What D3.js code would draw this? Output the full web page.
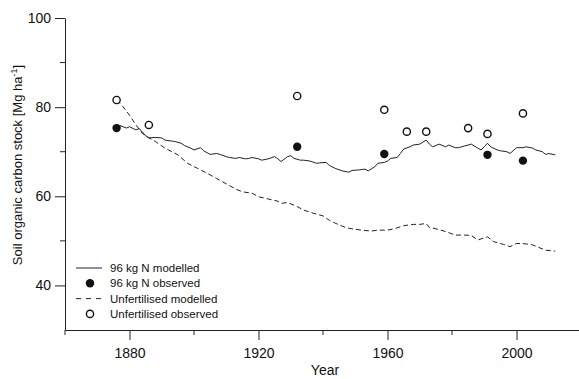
<!DOCTYPE html>
<html>
<head>
<meta charset="utf-8">
<script src="https://d3js.org/d3.v7.min.js"></script>
<style>
  body { margin: 0; background: #fff; }
  text { font-family: "Liberation Sans", Arial, sans-serif; fill: #111; }
</style>
</head>
<body>
<svg id="chart" width="579" height="379"></svg>
<script>
  // modelled series (year, Mg C/ha)
  var nYears = [1877,1879,1880,1882,1883,1885,1886,1888,1890,1891,1893,1894,1896,1897,1899,1900,1902,1903,1905,1907,1908,1910,1911,1913,1914,1916,1917,1918,1920,1921,1923,1925,1926,1927,1929,1930,1931,1933,1934,1936,1938,1939,1941,1942,1944,1946,1948,1949,1951,1953,1954,1956,1957,1959,1960,1961,1963,1964,1965,1967,1968,1970,1972,1973,1974,1976,1978,1979,1981,1982,1984,1986,1988,1989,1990,1991,1992,1994,1995,1997,1998,2000,2002,2003,2005,2006,2008,2009,2010,2012];
  var nModelled = [75.9,75.3,75.6,74.9,75.2,73.6,73.1,73.2,73.1,72.6,72.4,72.3,71.9,71.4,70.8,70.4,70.9,70.2,69.4,69.6,69.4,68.9,68.7,68.5,68.7,68.4,68.5,68.7,68.4,68.1,68.4,68.9,68.4,67.8,68.9,69.1,68.5,68.1,68.1,67.9,67.4,67.5,67.6,66.9,66.2,65.7,65.4,65.8,65.9,66.1,65.7,66.6,67.4,67.6,67.9,68.5,68.7,69.6,70.6,71.1,71.5,71.7,72.6,71.7,71.1,71.7,71.1,71.5,70.9,70.9,71.3,71.7,70.8,70.4,71.1,71.9,71.1,70.4,70.2,70.0,69.6,70.9,70.9,71.1,70.8,70.4,70.0,69.4,69.6,69.3];

  var uYears = [1876,1878,1880,1882,1884,1886,1888,1891,1895,1898,1901,1904,1907,1910,1913,1915,1918,1920,1923,1926,1927,1929,1932,1934,1937,1940,1942,1944,1947,1949,1952,1955,1957,1960,1962,1965,1968,1970,1972,1973,1975,1978,1981,1984,1986,1988,1991,1993,1996,1998,2000,2002,2005,2007,2009,2012];
  var uModelled = [81.6,80.1,78.2,76.0,74.1,73.1,72.3,70.8,69.3,67.4,66.3,65.2,64.0,62.8,61.6,61.0,60.7,59.9,59.4,58.9,58.4,58.6,57.7,56.9,56.2,55.6,54.6,53.9,53.0,52.7,52.4,52.2,52.4,52.4,52.7,53.4,53.7,53.7,53.9,53.0,52.7,52.1,51.3,51.3,51.2,50.2,50.9,49.8,49.2,48.7,49.4,49.4,49.1,48.5,47.9,47.7];

  // observed points
  var nObsYears = [1876,1932,1959,1991,2002];
  var nObserved = [75.3,71.1,69.5,69.3,68.0];
  var uObsYears = [1876,1886,1932,1959,1966,1972,1985,1991,2002];
  var uObserved = [81.6,76.0,82.5,79.4,74.5,74.5,75.3,74.0,78.6];

  var yTicks = [40,60,80,100];
  var yMinor = [50,70,90];
  var xTicks = [1880,1920,1960,2000];
  var xMinor = [1860,1900,1940,1980,2020];

  var legendNames = ["96 kg N modelled","96 kg N observed","Unfertilised modelled","Unfertilised observed"];

  var svg = d3.select("#chart");

  var x = d3.scaleLinear().domain([1860, 2020]).range([65, 581]);
  var y = d3.scaleLinear().domain([30, 100]).range([330, 18]);

  // y axis
  var yAxis = svg.append("g").attr("transform", "translate(65,0)");
  yAxis.call(d3.axisLeft(y).tickValues(yTicks).tickSize(10).tickPadding(4).tickSizeOuter(0));
  yAxis.selectAll("text").style("font-size", "14px").attr("fill", "#111");
  yAxis.selectAll("line").attr("stroke", "#222");
  yAxis.select(".domain").attr("stroke", "#222");
  yAxis.selectAll(".minor").data(yMinor).enter().append("line")
    .attr("class", "minor")
    .attr("x1", -5).attr("x2", 0)
    .attr("y1", function(d) { return y(d); })
    .attr("y2", function(d) { return y(d); })
    .attr("stroke", "#222");

  // x axis
  var xAxis = svg.append("g").attr("transform", "translate(0,330)");
  xAxis.call(d3.axisBottom(x).tickValues(xTicks).tickFormat(d3.format("d")).tickSize(10).tickPadding(8).tickSizeOuter(0));
  xAxis.selectAll("text").style("font-size", "14px").attr("fill", "#111");
  xAxis.selectAll("line").attr("stroke", "#222");
  xAxis.select(".domain").attr("stroke", "#222");
  xAxis.selectAll(".minor").data(xMinor).enter().append("line")
    .attr("class", "minor")
    .attr("x1", function(d) { return x(d); })
    .attr("x2", function(d) { return x(d); })
    .attr("y1", 0).attr("y2", 5)
    .attr("stroke", "#222");

  // axis titles
  svg.append("text")
    .attr("transform", "translate(22,165) rotate(-90)")
    .attr("text-anchor", "middle")
    .style("font-size", "13px")
    .html('Soil organic carbon stock [Mg ha<tspan baseline-shift="super" font-size="9px">-1</tspan>]');

  svg.append("text")
    .attr("x", 325).attr("y", 375)
    .attr("text-anchor", "middle")
    .style("font-size", "14px")
    .text("Year");

  // modelled lines
  var line = d3.line()
    .x(function(d) { return x(d[0]); })
    .y(function(d) { return y(d[1]); });

  svg.append("path")
    .attr("d", line(d3.zip(uYears, uModelled)))
    .attr("fill", "none")
    .attr("stroke", "#222")
    .attr("stroke-width", 1)
    .attr("stroke-dasharray", "5,3");

  svg.append("path")
    .attr("d", line(d3.zip(nYears, nModelled)))
    .attr("fill", "none")
    .attr("stroke", "#222")
    .attr("stroke-width", 1);

  // observed points
  svg.selectAll(".uobs").data(d3.zip(uObsYears, uObserved)).enter().append("circle")
    .attr("class", "uobs")
    .attr("cx", function(d) { return x(d[0]); })
    .attr("cy", function(d) { return y(d[1]); })
    .attr("r", 3.6)
    .attr("fill", "#fff")
    .attr("stroke", "#111")
    .attr("stroke-width", 1.4);

  svg.selectAll(".nobs").data(d3.zip(nObsYears, nObserved)).enter().append("circle")
    .attr("class", "nobs")
    .attr("cx", function(d) { return x(d[0]); })
    .attr("cy", function(d) { return y(d[1]); })
    .attr("r", 4.2)
    .attr("fill", "#111");

  // legend
  var lg = svg.append("g").attr("transform", "translate(76,268)");
  var rows = lg.selectAll("g").data(legendNames).enter().append("g")
    .attr("transform", function(d, i) { return "translate(0," + (i * 15.3) + ")"; });

  rows.append("text")
    .attr("x", 34).attr("y", 4)
    .style("font-size", "11.5px")
    .text(function(d) { return d; });

  rows.filter(function(d, i) { return i == 0 || i == 2; }).append("line")
    .attr("x1", 0).attr("x2", 26)
    .attr("stroke", "#222")
    .attr("stroke-dasharray", function(d, i) { return i == 1 ? "5,5" : null; });

  rows.filter(function(d, i) { return i == 1; }).append("circle")
    .attr("cx", 14).attr("r", 4.2).attr("fill", "#111");
  rows.filter(function(d, i) { return i == 3; }).append("circle")
    .attr("cx", 14).attr("r", 3.6).attr("fill", "#fff")
    .attr("stroke", "#111").attr("stroke-width", 1.4);
</script>
</body>
</html>
